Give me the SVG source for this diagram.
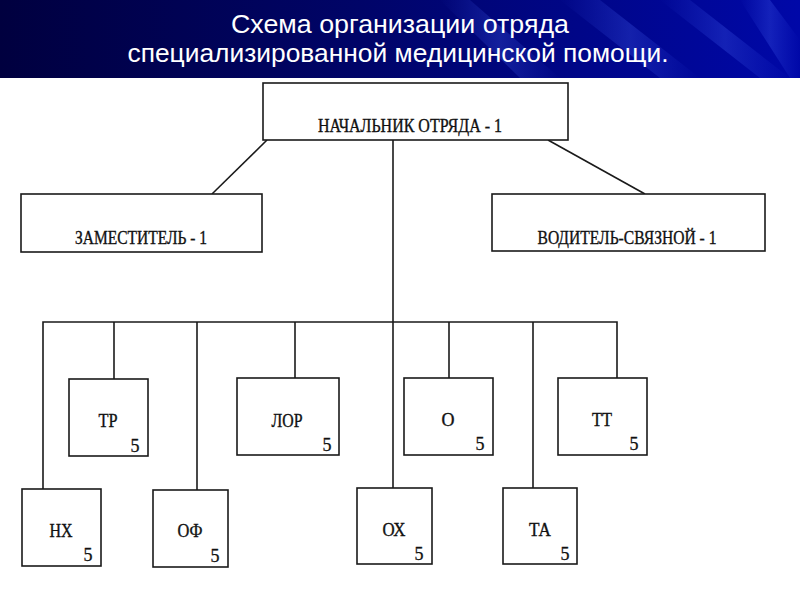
<svg xmlns="http://www.w3.org/2000/svg" width="800" height="600" viewBox="0 0 800 600">
  <defs>
    <linearGradient id="hdr" x1="0" y1="0" x2="1" y2="0">
      <stop offset="0" stop-color="#00003f"/>
      <stop offset="0.45" stop-color="#000468"/>
      <stop offset="1" stop-color="#0008a8"/>
    </linearGradient>
    <linearGradient id="streak" x1="0" y1="0" x2="1" y2="0">
      <stop offset="0" stop-color="#4060ff" stop-opacity="0"/>
      <stop offset="0.5" stop-color="#5070ff" stop-opacity="0.25"/>
      <stop offset="1" stop-color="#4060ff" stop-opacity="0"/>
    </linearGradient>
  </defs>
  <style>
    .box { fill: #ffffff; stroke: #1a1a1a; stroke-width: 1.6; }
    .ln { fill: none; stroke: #1a1a1a; stroke-width: 1.6; }
    .lbl { font-family: "Liberation Serif", "Times New Roman", serif; font-size: 18px; fill: #111; stroke: #111; stroke-width: 0.35; text-anchor: middle; }
    .num { font-family: "Liberation Serif", "Times New Roman", serif; font-size: 18px; fill: #111; stroke: #111; stroke-width: 0.3; text-anchor: middle; }
    .title { font-family: "Liberation Sans", Arial, sans-serif; font-size: 25px; fill: #ffffff; text-anchor: middle; }
  </style>

  <rect x="0" y="0" width="800" height="600" fill="#ffffff"/>

  <g id="header">
    <rect x="0" y="0" width="800" height="78" fill="url(#hdr)"/>
    <polygon points="440,0 470,0 560,78 520,78" fill="url(#streak)"/>
    <polygon points="560,0 600,0 700,78 660,78" fill="url(#streak)"/>
    <polygon points="660,0 690,0 790,78 760,78" fill="url(#streak)"/>
    <polygon points="740,0 770,0 800,40 800,78 790,78" fill="url(#streak)"/>
    <text class="title" x="400" y="33" textLength="338" lengthAdjust="spacingAndGlyphs">Схема организации отряда</text>
    <text class="title" x="398" y="62" textLength="541" lengthAdjust="spacingAndGlyphs">специализированной медицинской помощи.</text>
  </g>

  <g id="connectors">
    <line class="ln" x1="267" y1="140" x2="212" y2="194"/>
    <line class="ln" x1="548" y1="140" x2="645" y2="194"/>
    <line class="ln" x1="393" y1="140" x2="393" y2="488"/>
    <polyline class="ln" points="43,489 43,322 617,322 617,378"/>
    <line class="ln" x1="114" y1="322" x2="114" y2="379"/>
    <line class="ln" x1="197" y1="322" x2="197" y2="490"/>
    <line class="ln" x1="295" y1="322" x2="295" y2="378"/>
    <line class="ln" x1="449" y1="322" x2="449" y2="378"/>
    <line class="ln" x1="533" y1="322" x2="533" y2="488"/>
  </g>

  <g id="chief">
    <rect class="box" x="263" y="83" width="305" height="57"/>
    <text class="lbl" x="410" y="132" textLength="184" lengthAdjust="spacingAndGlyphs">НАЧАЛЬНИК ОТРЯДА - 1</text>
  </g>
  <g id="deputy">
    <rect class="box" x="21" y="194" width="241" height="58"/>
    <text class="lbl" x="141" y="244" textLength="132" lengthAdjust="spacingAndGlyphs">ЗАМЕСТИТЕЛЬ - 1</text>
  </g>
  <g id="driver">
    <rect class="box" x="492" y="194" width="273" height="57"/>
    <text class="lbl" x="627" y="244" textLength="179" lengthAdjust="spacingAndGlyphs">ВОДИТЕЛЬ-СВЯЗНОЙ - 1</text>
  </g>

  <g id="tr">
    <rect class="box" x="69" y="379" width="79" height="77"/>
    <text class="lbl" x="108" y="427" textLength="19" lengthAdjust="spacingAndGlyphs">ТР</text>
    <text class="num" x="135" y="452">5</text>
  </g>
  <g id="lor">
    <rect class="box" x="237" y="378" width="102" height="77"/>
    <text class="lbl" x="287" y="427" textLength="31" lengthAdjust="spacingAndGlyphs">ЛОР</text>
    <text class="num" x="327" y="451">5</text>
  </g>
  <g id="o">
    <rect class="box" x="404" y="378" width="89" height="77"/>
    <text class="lbl" x="448" y="426">О</text>
    <text class="num" x="480" y="450">5</text>
  </g>
  <g id="tt">
    <rect class="box" x="558" y="378" width="89" height="77"/>
    <text class="lbl" x="602" y="426" textLength="20" lengthAdjust="spacingAndGlyphs">ТТ</text>
    <text class="num" x="634" y="450">5</text>
  </g>

  <g id="nh">
    <rect class="box" x="22" y="489" width="79" height="77"/>
    <text class="lbl" x="61" y="537" textLength="23" lengthAdjust="spacingAndGlyphs">НХ</text>
    <text class="num" x="88" y="561">5</text>
  </g>
  <g id="of">
    <rect class="box" x="153" y="490" width="75" height="77"/>
    <text class="lbl" x="190" y="537" textLength="25" lengthAdjust="spacingAndGlyphs">ОФ</text>
    <text class="num" x="215" y="562">5</text>
  </g>
  <g id="oh">
    <rect class="box" x="357" y="488" width="75" height="76"/>
    <text class="lbl" x="394" y="536" textLength="23" lengthAdjust="spacingAndGlyphs">ОХ</text>
    <text class="num" x="419" y="560">5</text>
  </g>
  <g id="ta">
    <rect class="box" x="503" y="488" width="74" height="76"/>
    <text class="lbl" x="540" y="536" textLength="22" lengthAdjust="spacingAndGlyphs">ТА</text>
    <text class="num" x="565" y="560">5</text>
  </g>
</svg>
